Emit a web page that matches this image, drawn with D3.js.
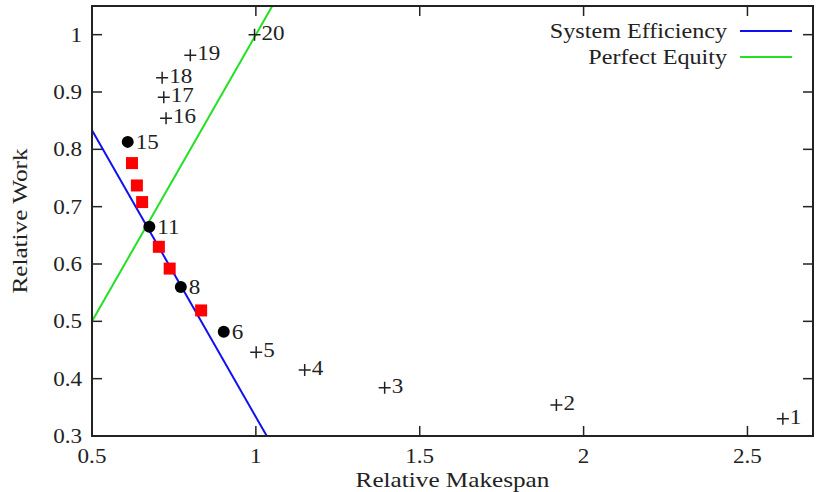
<!DOCTYPE html>
<html>
<head>
<meta charset="utf-8">
<script src="https://cdn.jsdelivr.net/npm/d3@7"></script>
<style>
  html, body { margin: 0; padding: 0; background: #fff; }
  text { font-family: "Liberation Serif", "DejaVu Serif", serif; fill: #222; }
</style>
</head>
<body>
<div id="chart"></div>
<script>
// data
const xTicks = [0.5, 1, 1.5, 2, 2.5]
const yTicks = [0.3, 0.4, 0.5, 0.6, 0.7, 0.8, 0.9, 1]

const efficiencyX = [0.5, 1.0333]
const efficiencyY = [0.8333, 0.3]
const equityX = [0.5, 1.05]
const equityY = [0.5, 1.05]

const circleX = [0.609, 0.675, 0.771, 0.902]
const circleY = [0.813, 0.665, 0.560, 0.482]
const circleLabels = ["15", "11", "8", "6"]

const squareX = [0.622, 0.637, 0.653, 0.704, 0.737, 0.833]
const squareY = [0.776, 0.737, 0.708, 0.630, 0.592, 0.519]

const plusX = [2.608, 1.917, 1.393, 1.149, 1.001, 0.726, 0.719, 0.714, 0.800, 0.996]
const plusY = [0.330, 0.354, 0.384, 0.415, 0.446, 0.854, 0.891, 0.925, 0.964, 1.0]
const plusLabels = ["1", "2", "3", "4", "5", "16", "17", "18", "19", "20"]

const legendNames = ["System Efficiency", "Perfect Equity"]
const legendColors = ["#1010f0", "#22e022"]

// layout
const W = 828, H = 492
const margin = { left: 92, right: 15, top: 6, bottom: 56 }
const fs = 21
const numScale = 1.1
const wordScale = 1.2
const ink = "#222"

const svg = d3.select("#chart").append("svg")
  .attr("width", W)
  .attr("height", H)

const x = d3.scaleLinear().domain([0.5, 2.7]).range([margin.left, W - margin.right])
const y = d3.scaleLinear().domain([0.3, 1.05]).range([H - margin.bottom, margin.top])

const x0 = x.range()[0], x1 = x.range()[1]
const y0 = y.range()[0], y1 = y.range()[1]

const label = (g, px, py, s, anchor, sx, rot) => {
  return g.append("text")
    .attr("transform", "translate(" + px + "," + py + ") rotate(" + (rot || 0) + ") scale(" + sx + ",1)")
    .attr("text-anchor", anchor)
    .style("font-size", fs + "px")
    .text(s)
}

svg.append("clipPath").attr("id", "plot-clip")
  .append("rect")
  .attr("x", x0).attr("y", y1)
  .attr("width", x1 - x0).attr("height", y0 - y1)

/* ------- LINES -------*/
const lineGen = d3.line().x(d => x(d[0])).y(d => y(d[1]))
const lines = svg.append("g").attr("clip-path", "url(#plot-clip)")
lines.append("path")
  .attr("d", lineGen(d3.zip(efficiencyX, efficiencyY)))
  .attr("fill", "none")
  .attr("stroke", legendColors[0])
  .attr("stroke-width", 2)
lines.append("path")
  .attr("d", lineGen(d3.zip(equityX, equityY)))
  .attr("fill", "none")
  .attr("stroke", legendColors[1])
  .attr("stroke-width", 2)

/* ------- FRAME + TICKS -------*/
const axes = svg.append("g")
const tl = 10
xTicks.forEach(t => {
  axes.append("line").attr("x1", x(t)).attr("x2", x(t)).attr("y1", y0).attr("y2", y0 - tl)
    .attr("stroke", ink).attr("stroke-width", 1.5)
  axes.append("line").attr("x1", x(t)).attr("x2", x(t)).attr("y1", y1).attr("y2", y1 + tl)
    .attr("stroke", ink).attr("stroke-width", 1.5)
  label(axes, x(t), y0 + 27, String(t), "middle", numScale)
})
yTicks.forEach(t => {
  axes.append("line").attr("x1", x0).attr("x2", x0 + tl).attr("y1", y(t)).attr("y2", y(t))
    .attr("stroke", ink).attr("stroke-width", 1.5)
  axes.append("line").attr("x1", x1).attr("x2", x1 - tl).attr("y1", y(t)).attr("y2", y(t))
    .attr("stroke", ink).attr("stroke-width", 1.5)
  label(axes, x0 - 10, y(t) + 7, String(t), "end", numScale)
})
axes.append("rect")
  .attr("x", x0).attr("y", y1)
  .attr("width", x1 - x0).attr("height", y0 - y1)
  .attr("fill", "none")
  .attr("stroke", ink)
  .attr("stroke-width", 2)

label(svg, (x0 + x1) / 2, H - 5, "Relative Makespan", "middle", wordScale)
label(svg, 27, (y0 + y1) / 2, "Relative Work", "middle", wordScale, -90)

/* ------- POINTS -------*/
const pts = svg.append("g")

pts.selectAll("rect.sq")
  .data(d3.zip(squareX, squareY))
  .enter().append("rect")
  .attr("class", "sq")
  .attr("x", d => x(d[0]) - 6)
  .attr("y", d => y(d[1]) - 6)
  .attr("width", 12).attr("height", 12)
  .attr("fill", "#ff0000")

const circ = d3.zip(circleX, circleY, circleLabels)
pts.selectAll("circle")
  .data(circ)
  .enter().append("circle")
  .attr("cx", d => x(d[0]))
  .attr("cy", d => y(d[1]))
  .attr("r", 6)
  .attr("fill", "#000")
circ.forEach(d => label(pts, x(d[0]) + 8, y(d[1]) + 7, d[2], "start", numScale))

const plus = d3.zip(plusX, plusY, plusLabels)
pts.selectAll("path.plus")
  .data(plus)
  .enter().append("path")
  .attr("class", "plus")
  .attr("d", d => {
    const px = x(d[0]), py = y(d[1])
    return "M" + (px - 6) + "," + py + "H" + (px + 6) + "M" + px + "," + (py - 6) + "V" + (py + 6)
  })
  .attr("stroke", ink)
  .attr("stroke-width", 1.5)
plus.forEach(d => label(pts, x(d[0]) + 7, y(d[1]) + 5, d[2], "start", numScale))

/* ------- LEGEND -------*/
const legend = svg.append("g")
legendNames.forEach((name, i) => {
  const ly = 31 + i * 26
  label(legend, 727, ly + 7, name, "end", wordScale - 0.05)
  legend.append("line")
    .attr("x1", 740).attr("x2", 792)
    .attr("y1", ly).attr("y2", ly)
    .attr("stroke", legendColors[i])
    .attr("stroke-width", 2)
})
</script>
</body>
</html>
